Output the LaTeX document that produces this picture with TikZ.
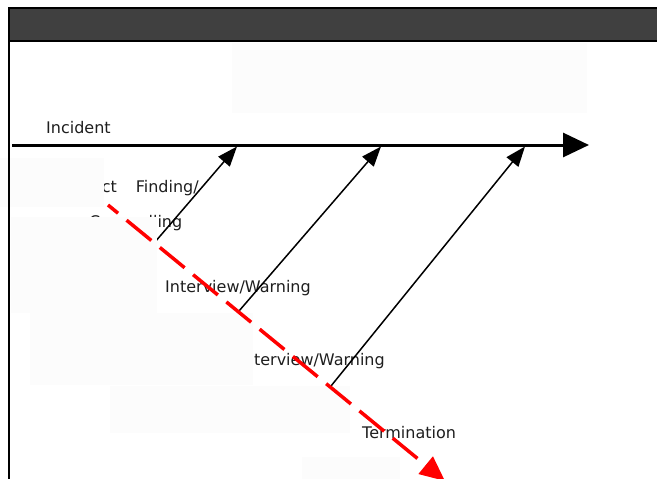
\documentclass[tikz,border=0pt]{standalone}
\usepackage{fontspec}
\setmainfont{DejaVu Sans}
\usepackage{tikz}
\usetikzlibrary{arrows.meta,positioning}
\definecolor{bandgray}{RGB}{64,64,64}
\definecolor{boxfill}{RGB}{252,252,252}
\definecolor{labelgray}{RGB}{30,30,30}
\definecolor{termred}{RGB}{255,0,0}

\begin{document}
\begin{tikzpicture}[
    x=1pt, y=-1pt,
    font=\fontsize{16}{19}\selectfont,
    lbl/.style={anchor=base west, inner sep=0pt, text=labelgray},
    cover/.style={fill=boxfill, draw=none},
    spine/.style={-{Triangle[length=26pt,width=24pt]}, line width=3pt},
    rib/.style={-{Triangle[length=20pt,width=15pt]}, line width=1.5pt},
    redline/.style={-{Triangle[length=25pt,width=22pt]}, line width=3.5pt, termred,
        dash pattern=on 32pt off 11pt, dash phase=19pt}
]
    \useasboundingbox (0,0) rectangle (657,479);

    % Spine
    \coordinate (spineL) at (12,145);
    \coordinate (spineR) at (589,145);
    \draw[spine] (spineL) -- (spineR);
    \node[lbl] (incident) at (46,133) {Incident};

    % Labels
    \node[lbl] (fact) at (84,192) {Fact\hspace{19pt}Finding/};
    \node[lbl] (couns) at (89,227) {Counselling};
    \node[lbl] (warn1) at (165,292) {Interview/Warning};
    \node[lbl] (warn2) at (239,365) {Interview/Warning};
    \node[lbl] (term) at (362,438) {Termination};

    % Ribs
    \coordinate (s1) at (155,242);
    \coordinate (t1) at (237,146.5);
    \coordinate (s2) at (239,311);
    \coordinate (t2) at (381,146.5);
    \coordinate (s3) at (331,386);
    \coordinate (t3) at (525,146.5);
    \draw[rib] (s1) -- (t1);
    \draw[rib] (s2) -- (t2);
    \draw[rib] (s3) -- (t3);

    % Covering boxes
    \fill[cover] (0,158) rectangle (104,207);
    \fill[cover] (10.8,217) rectangle (157,313);
    \fill[cover] (232,43) rectangle (587,113);
    \fill[cover] (30,313) rectangle (253,385);
    \fill[cover] (110,386) rectangle (350,433);
    \fill[cover] (302,457) rectangle (400,479);

    % Frame
    \draw[fill=bandgray, line width=1.5pt] (9,8) rectangle (680,41);
    \draw[line width=1.5pt] (9,41) -- (9,490);

    % Termination path
    \coordinate (rs) at (108,205);
    \coordinate (re) at (445,481);
    \draw[redline] (rs) -- (re);
\end{tikzpicture}
\end{document}
